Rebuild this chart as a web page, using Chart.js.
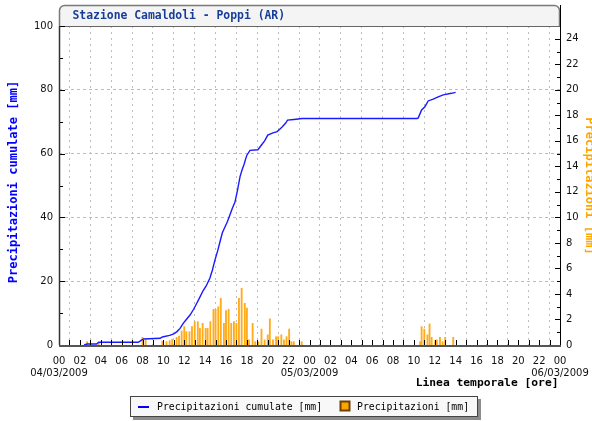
<!DOCTYPE html>
<html>
<head>
<meta charset="utf-8">
<script src="https://cdn.jsdelivr.net/npm/chart.js@4.4.0/dist/chart.umd.min.js"></script>
<style>
  html, body { margin: 0; padding: 0; background: #fff; }
  #wrap { width: 592px; height: 421px; }
</style>
</head>
<body>
<div id="wrap"><canvas id="rainChart" width="592" height="421"></canvas></div>
<script>
// Values; x is hours since 04/03/2009 00:00
const rainHours = [2.7, 3.8, 8.0, 8.3, 9.9, 10.3, 10.6, 10.85, 11.27, 11.5, 11.75, 12.0, 12.2, 12.5,
    12.74, 13.0, 13.3, 13.5, 13.76, 14.05, 14.24, 14.5, 14.8, 15.0, 15.26, 15.5, 15.8, 16.0, 16.25,
    16.5, 16.76, 17.0, 17.24, 17.5, 17.8, 18.0, 18.2, 18.55, 18.8, 19.1, 19.4, 19.7, 20.0, 20.2,
    20.5, 20.8, 21.0, 21.3, 21.55, 21.8, 22.05, 22.27, 22.5, 23.25,
    34.6, 34.74, 35.0, 35.3, 35.5, 35.7, 36.05, 36.2, 36.5, 36.75, 37.0, 37.77];
const rainValues = [0.26, 0.2, 0.6, 0.4, 0.3, 0.26, 0.34, 0.45, 0.6, 0.7, 1.1, 1.44, 1.05, 1.05,
    1.44, 1.83, 1.83, 1.3, 1.7, 1.3, 1.3, 1.83, 2.8, 2.8, 3.0, 3.66, 1.7, 2.7, 2.8,
    1.7, 1.83, 1.7, 3.66, 4.45, 3.27, 2.9, 0.4, 1.7, 0.26, 0.26, 1.25, 0.4, 0.8, 2.05,
    0.4, 0.65, 0.65, 0.8, 0.4, 0.65, 1.25, 0.26, 0.26, 0.26,
    0.26, 1.44, 1.25, 0.8, 1.65, 0.6, 0.35, 0.4, 0.6, 0.26, 0.6, 0.6];

const cumHours = [2.4, 2.7, 3.6, 3.8, 7.6, 7.9, 8.1, 9.7, 9.9, 10.6, 11.0, 11.3, 11.6, 11.9, 12.2,
    12.55, 12.9, 13.2, 13.5, 13.8, 14.1, 14.46, 14.7, 14.94, 15.2, 15.42, 15.65, 15.9, 16.15, 16.38,
    16.6, 16.86, 17.1, 17.34, 17.55, 17.72, 17.9, 18.0, 18.3, 19.06, 19.4, 19.7, 20.0, 20.5, 20.9,
    21.2, 21.4, 21.7, 21.9, 22.5, 23.3, 34.3, 34.42, 34.74, 35.06, 35.37, 35.85, 36.33, 36.81, 37.6, 38.0];
const cumValues = [0, 0.3, 0.3, 0.85, 0.85, 1.5, 1.9, 2.1, 2.5, 3.0, 3.5, 4.2, 5.2, 6.8, 8.0,
    9.4, 11.2, 13.1, 15.0, 17.0, 18.5, 21.0, 23.5, 26.6, 29.5, 32.3, 35.2, 37.0, 38.8, 40.8,
    42.8, 44.8, 48.5, 52.7, 55.0, 56.5, 58.5, 59.5, 61.0, 61.2, 62.7, 64.0, 65.8, 66.5, 66.9,
    67.8, 68.4, 69.5, 70.5, 70.7, 71.0, 71.0, 71.2, 73.7, 74.7, 76.5, 77.1, 77.8, 78.4, 78.9, 79.2];

const dayTicks = [0, 24, 48];
const dateLabels = ['04/03/2009', '05/03/2009', '06/03/2009'];

const stationTitle = 'Stazione Camaldoli - Poppi (AR)';
const leftTitle = 'Precipitazioni cumulate [mm]';
const rightTitle = 'Precipitazioni [mm]';
const timeTitle = 'Linea temporale [ore]';

Chart.defaults.font.family = 'DejaVu Sans';
Chart.defaults.font.size = 10;
Chart.defaults.color = '#111';

// Title box, axis lines, inner tick marks, axis titles and legend
const decorations = {
    id: 'decorations',
    beforeDraw(chart) {
        const ctx = chart.ctx;
        const { left, right, top } = chart.chartArea;
        ctx.save();
        ctx.beginPath();
        ctx.moveTo(left + 0.5, top);
        ctx.lineTo(left + 0.5, 10);
        ctx.arcTo(left + 0.5, 5.5, left + 5, 5.5, 5);
        ctx.lineTo(right - 5, 5.5);
        ctx.arcTo(right - 0.5, 5.5, right - 0.5, 10, 5);
        ctx.lineTo(right - 0.5, top);
        ctx.fillStyle = '#f4f4f4';
        ctx.fill();
        ctx.strokeStyle = '#7a7a7a';
        ctx.lineWidth = 1.5;
        ctx.stroke();
        ctx.restore();
    },
    afterDraw(chart) {
        const ctx = chart.ctx;
        const xs = chart.scales.x, ys = chart.scales.y, y2 = chart.scales.y2;
        const { left, right, top, bottom } = chart.chartArea;
        ctx.save();

        // title
        ctx.fillStyle = '#163d9a';
        ctx.font = 'bold 11.4px "DejaVu Sans Mono"';
        ctx.textBaseline = 'middle';
        ctx.textAlign = 'left';
        ctx.fillText(stationTitle, 72.5, 16);

        // title box bottom edge
        ctx.strokeStyle = '#666';
        ctx.lineWidth = 1;
        ctx.beginPath();
        ctx.moveTo(left, top + 0.5);
        ctx.lineTo(right, top + 0.5);
        ctx.stroke();

        // tick marks inside the plot
        ctx.strokeStyle = '#000';
        ctx.lineWidth = 1;
        ctx.beginPath();
        for (let h = 1; h < 48; h++) {
            const x = Math.round(xs.getPixelForValue(h)) + 0.5;
            ctx.moveTo(x, bottom);
            ctx.lineTo(x, bottom - 5);
        }
        for (let v = 10; v <= 100; v += 10) {
            const y = Math.round(ys.getPixelForValue(v)) + 0.5;
            ctx.moveTo(left, y);
            ctx.lineTo(left + (v % 20 === 0 ? 6 : 4), y);
        }
        for (let v = 1; v <= 24; v++) {
            const y = Math.round(y2.getPixelForValue(v)) + 0.5;
            ctx.moveTo(right, y);
            ctx.lineTo(right - (v % 2 === 0 ? 5 : 3), y);
        }
        ctx.stroke();

        // axis lines
        ctx.strokeStyle = '#333';
        ctx.lineWidth = 1.5;
        ctx.beginPath();
        ctx.moveTo(left + 0.5, top);
        ctx.lineTo(left + 0.5, bottom);
        ctx.stroke();
        ctx.strokeStyle = '#000';
        ctx.lineWidth = 1;
        ctx.beginPath();
        ctx.moveTo(right + 0.5, 5);
        ctx.lineTo(right + 0.5, bottom);
        ctx.stroke();
        ctx.strokeStyle = '#555';
        ctx.lineWidth = 2;
        ctx.beginPath();
        ctx.moveTo(left, bottom + 1);
        ctx.lineTo(right + 1, bottom + 1);
        ctx.stroke();

        // axis titles
        ctx.font = 'bold 12px "DejaVu Sans Mono"';
        ctx.textAlign = 'center';
        ctx.save();
        ctx.translate(13.5, 182);
        ctx.rotate(-Math.PI / 2);
        ctx.fillStyle = '#0000ff';
        ctx.fillText(leftTitle, 0, 0);
        ctx.restore();
        ctx.save();
        ctx.translate(589, 186);
        ctx.rotate(Math.PI / 2);
        ctx.fillStyle = '#ffa500';
        ctx.fillText(rightTitle, 0, 0);
        ctx.restore();

        ctx.font = 'bold 11.3px "DejaVu Sans Mono"';
        ctx.fillStyle = '#000';
        ctx.textAlign = 'right';
        ctx.fillText(timeTitle, 558.5, 383);

        // legend box
        ctx.fillStyle = '#8c8c8c';
        ctx.fillRect(133, 399, 348, 21);
        ctx.fillStyle = '#f8f8f8';
        ctx.fillRect(130, 396, 348, 21);
        ctx.strokeStyle = '#444';
        ctx.lineWidth = 1;
        ctx.strokeRect(130.5, 396.5, 347, 20);

        ctx.strokeStyle = '#0000ff';
        ctx.lineWidth = 2;
        ctx.beginPath();
        ctx.moveTo(138, 407);
        ctx.lineTo(149, 407);
        ctx.stroke();
        ctx.fillStyle = '#ffa500';
        ctx.fillRect(340, 401.5, 10, 9);
        ctx.strokeStyle = '#6b4200';
        ctx.strokeRect(340.5, 401.5, 9, 9);

        ctx.font = '9.8px "DejaVu Sans Mono"';
        ctx.fillStyle = '#000';
        ctx.textAlign = 'left';
        ctx.fillText(leftTitle, 157, 407);
        ctx.fillText(rightTitle, 357, 407);
        ctx.restore();
    }
};

const ctx = document.getElementById('rainChart').getContext('2d');
new Chart(ctx, {
    type: 'bar',
    data: {
        datasets: [{
            type: 'line',
            label: leftTitle,
            data: cumHours.map((h, i) => ({ x: h, y: cumValues[i] })),
            yAxisID: 'y',
            borderColor: '#1a1aff',
            borderWidth: 1.4,
            pointRadius: 0,
            tension: 0,
            fill: false
        }, {
            type: 'bar',
            label: rightTitle,
            data: rainHours.map((h, i) => ({ x: h, y: rainValues[i] })),
            yAxisID: 'y2',
            backgroundColor: '#ffab1a',
            barThickness: 1.2,
            borderWidth: 0
        }]
    },
    options: {
        responsive: false,
        animation: false,
        devicePixelRatio: 1,
        layout: { padding: { top: 26, left: 0, right: 0, bottom: 0 } },
        plugins: {
            legend: { display: false },
            tooltip: { enabled: false }
        },
        scales: {
            x: {
                type: 'linear',
                min: 0,
                max: 48,
                offset: false,
                afterFit: scale => {
                    scale.height = 76;
                    // first/last date labels may overhang; keep the plot at full width
                    scale.paddingLeft = 0;
                    scale.paddingRight = 0;
                },
                grid: { color: '#bdbdbd', drawTicks: false },
                border: { display: false, dash: [2, 4] },
                ticks: {
                    stepSize: 2,
                    autoSkip: false,
                    maxRotation: 0,
                    padding: 11,
                    font: { size: 10, lineHeight: 1.17 },
                    callback: value => {
                        const hh = String(value % 24).padStart(2, '0');
                        const day = dayTicks.indexOf(value);
                        return day >= 0 ? [hh, dateLabels[day]] : hh;
                    }
                }
            },
            y: {
                position: 'left',
                min: 0,
                max: 100,
                afterFit: scale => { scale.width = 59; },
                grid: { color: '#bdbdbd', drawTicks: false },
                border: { display: false, dash: [3, 3] },
                ticks: { stepSize: 20, padding: 6 }
            },
            y2: {
                position: 'right',
                min: 0,
                max: 25,
                afterFit: scale => { scale.width = 32; },
                afterBuildTicks: scale => {
                    scale.ticks = scale.ticks.filter(t => t.value <= 24);
                },
                grid: { display: false, drawTicks: false },
                border: { display: false },
                ticks: { stepSize: 2, padding: 6 }
            }
        }
    },
    plugins: [decorations]
});
</script>
</body>
</html>
